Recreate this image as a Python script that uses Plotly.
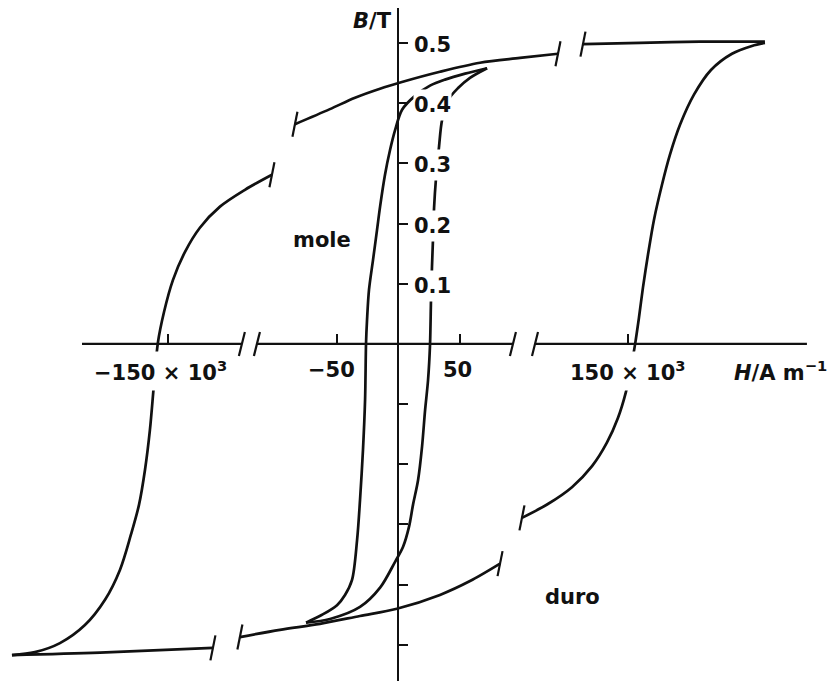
import plotly.graph_objects as go

# ---------------------------------------------------------------
# Soft magnetic material ("mole"): H in A/m, B in T
# ---------------------------------------------------------------
MOLE_DOWN_H = [72.4, 54.5, 38.2, 26.0, 13.8, 3.3, -2.4, -6.5, -10.6, -14.6, -17.1,
               -20.3, -23.6, -25.2, -26.0, -26.8, -28.5, -30.9, -33.3, -37.4, -43.1,
               -49.6, -61.8, -74.8]
MOLE_DOWN_B = [0.458, 0.449, 0.439, 0.429, 0.412, 0.389, 0.355, 0.322, 0.281, 0.228,
               0.189, 0.140, 0.090, 0.040, 0.002, -0.093, -0.176, -0.259, -0.326,
               -0.392, -0.417, -0.434, -0.450, -0.463]

MOLE_UP_H = [-74.8, -55.3, -30.9, -14.6, -2.4, 4.1, 8.9, 12.2, 16.3, 19.5, 22.0, 24.4,
             26.0, 26.8, 27.6, 28.5, 29.3, 30.9, 33.3, 35.8, 40.7, 48.8, 58.5, 72.4]
MOLE_UP_B = [-0.463, -0.457, -0.437, -0.405, -0.362, -0.337, -0.304, -0.267, -0.226,
             -0.171, -0.110, -0.060, -0.002, 0.073, 0.128, 0.178, 0.226, 0.276, 0.327,
             0.372, 0.405, 0.425, 0.442, 0.458]

# ---------------------------------------------------------------
# Hard magnetic material ("duro"): H in 10^3 A/m, B in T.
# Each branch is drawn in three pieces, interrupted at the axis breaks.
# ---------------------------------------------------------------
DURO_DOWN_1_H = [239.4, 197.0, 157.9, 120.7]
DURO_DOWN_1_B = [0.502, 0.502, 0.500, 0.498]
DURO_DOWN_2_H = [104.4, 79.6, 53.5, 27.4, 2.6, -11.7, -28.0, -44.4, -67.2]
DURO_DOWN_2_B = [0.482, 0.475, 0.467, 0.452, 0.435, 0.424, 0.409, 0.390, 0.365]
DURO_DOWN_3_H = [-82.2, -99.8, -116.1, -129.2, -138.9, -146.8, -152.6, -156.6, -159.2,
                 -161.8, -165.0, -168.9, -174.2, -181.3, -191.1, -204.2, -220.5,
                 -236.8, -251.8]
DURO_DOWN_3_B = [0.281, 0.256, 0.228, 0.193, 0.153, 0.106, 0.053, 0.002, -0.068,
                 -0.143, -0.209, -0.267, -0.317, -0.375, -0.425, -0.467, -0.497,
                 -0.512, -0.517]

DURO_UP_1_H = [-251.8, -194.4, -120.7]
DURO_UP_1_B = [-0.517, -0.513, -0.505]
DURO_UP_2_H = [-103.1, -77.0, -50.9, -24.8, -0.7, 27.4, 47.0, 66.6]
DURO_UP_2_B = [-0.487, -0.475, -0.465, -0.452, -0.440, -0.417, -0.394, -0.365]
DURO_UP_3_H = [80.9, 97.8, 113.5, 126.6, 136.3, 143.5, 148.7, 152.0, 154.6, 157.2,
               159.8, 163.1, 167.0, 172.2, 177.4, 184.0, 193.1, 204.2, 217.9, 230.9,
               239.4]
DURO_UP_3_B = [-0.289, -0.266, -0.238, -0.203, -0.164, -0.123, -0.080, -0.040, -0.002,
               0.043, 0.093, 0.148, 0.206, 0.264, 0.314, 0.364, 0.414, 0.455, 0.482,
               0.495, 0.500]

# H axis drawn in three pieces (10^3 A/m scale)
H_AXIS_PIECES = [(-206.1, -101.8), (-92.0, 75.0), (89.4, 266.8)]

# Ticks and labels
B_TICKS = [-0.5, -0.4, -0.3, -0.2, -0.1, 0.1, 0.2, 0.3, 0.4, 0.5]
B_LABELED = [0.1, 0.2, 0.3, 0.4, 0.5]
B_LABELS = ["0.1", "0.2", "0.3", "0.4", "0.5"]
H_MOLE_TICKS = [-50, 50]
H_MOLE_LABELS = ["\u221250", "50"]
H_DURO_TICKS = [-150, 150]
H_DURO_LABELS = ["\u2212150 \u00d7 10<sup>3</sup>", "150 \u00d7 10<sup>3</sup>"]

# ---------------------------------------------------------------
# Figure geometry
# ---------------------------------------------------------------
W, HGT, TOP = 831, 681, 8
B_RANGE = [-0.560, 0.558]
H_MOLE_RANGE = [-323.6, 352.0]
H_DURO_RANGE = [-259.6, 282.5]

PX_PER_T = (HGT - TOP) / (B_RANGE[1] - B_RANGE[0])
PX_PER_KA = W / (H_DURO_RANGE[1] - H_DURO_RANGE[0])

FONT = "DejaVu Sans"
FSIZE = 21
INK = "#111111"
CURVE_W = 2.7
AXIS_W = 2.2

fig = go.Figure()


def curve(h, b, axis):
    fig.add_trace(go.Scatter(
        x=h, y=b, mode="lines", xaxis=axis, yaxis="y",
        line=dict(color=INK, width=CURVE_W, shape="spline", smoothing=0.9),
        hoverinfo="skip"))


def segment_marks(points, half_px=12.5, lean_px=2.5):
    """Short near-vertical strokes marking where a broken line stops."""
    xs, ys = [], []
    dh = lean_px / PX_PER_KA
    db = half_px / PX_PER_T
    for h, b in points:
        xs += [h - dh, h + dh, None]
        ys += [b - db, b + db, None]
    fig.add_trace(go.Scatter(x=xs, y=ys, mode="lines", xaxis="x2", yaxis="y",
                             line=dict(color=INK, width=AXIS_W), hoverinfo="skip"))


# soft loop
curve(MOLE_DOWN_H, MOLE_DOWN_B, "x")
curve(MOLE_UP_H, MOLE_UP_B, "x")

# hard loop pieces
duro_pieces = [
    (DURO_DOWN_1_H, DURO_DOWN_1_B), (DURO_DOWN_2_H, DURO_DOWN_2_B),
    (DURO_DOWN_3_H, DURO_DOWN_3_B),
    (DURO_UP_1_H, DURO_UP_1_B), (DURO_UP_2_H, DURO_UP_2_B),
    (DURO_UP_3_H, DURO_UP_3_B),
]
for h, b in duro_pieces:
    curve(h, b, "x2")

# break strokes at the inner ends of each broken branch
ends = []
for branch in (duro_pieces[:3], duro_pieces[3:]):
    for i, (h, b) in enumerate(branch):
        if i > 0:
            ends.append((h[0], b[0]))
        if i < len(branch) - 1:
            ends.append((h[-1], b[-1]))
segment_marks(ends)

# H axis line with its breaks
ax_x, ax_y = [], []
for a, c in H_AXIS_PIECES:
    ax_x += [a, c, None]
    ax_y += [0, 0, None]
fig.add_trace(go.Scatter(x=ax_x, y=ax_y, mode="lines", xaxis="x2", yaxis="y",
                         line=dict(color=INK, width=AXIS_W), hoverinfo="skip"))
axis_breaks = [(H_AXIS_PIECES[i][1], 0) for i in range(len(H_AXIS_PIECES) - 1)]
axis_breaks += [(H_AXIS_PIECES[i + 1][0], 0) for i in range(len(H_AXIS_PIECES) - 1)]
segment_marks(axis_breaks, half_px=12, lean_px=3)

x_pos = (0 - B_RANGE[0]) / (B_RANGE[1] - B_RANGE[0])
y_pos = (0 - H_MOLE_RANGE[0]) / (H_MOLE_RANGE[1] - H_MOLE_RANGE[0])

common_x = dict(showgrid=False, zeroline=False, showline=False, showticklabels=False,
                ticks="inside", ticklen=10, tickwidth=AXIS_W, tickcolor=INK,
                anchor="free", position=x_pos, side="bottom", fixedrange=True)

fig.update_layout(
    width=W, height=HGT,
    margin=dict(l=0, r=0, t=TOP, b=0, autoexpand=False),
    paper_bgcolor="white", plot_bgcolor="white",
    showlegend=False,
    xaxis=dict(range=H_MOLE_RANGE, tickvals=H_MOLE_TICKS, **common_x),
    xaxis2=dict(range=H_DURO_RANGE, tickvals=H_DURO_TICKS, overlaying="x", **common_x),
    yaxis=dict(range=B_RANGE, showgrid=False, zeroline=False, showline=True,
               linecolor=INK, linewidth=AXIS_W, ticks="outside", ticklen=9,
               tickwidth=AXIS_W, tickcolor=INK, tickvals=B_TICKS,
               showticklabels=False, anchor="free", position=y_pos, side="right",
               fixedrange=True),
)

font = dict(family=FONT, size=FSIZE, color=INK, weight="bold")


def label(text, x, y, xref, yref, **kw):
    fig.add_annotation(text=text, x=x, y=y, xref=xref, yref=yref, showarrow=False,
                       font=font, borderpad=0, **kw)


# B tick labels (their white boxes interrupt the curves behind them)
for v, t in zip(B_LABELED, B_LABELS):
    label(t, 0, v, "x", "y", xanchor="left", yanchor="middle", xshift=15, yshift=-2,
          bgcolor="white", height=30)

# H tick labels
for v, t in zip(H_MOLE_TICKS, H_MOLE_LABELS):
    label(t, v, 0, "x", "y", xanchor="center", yanchor="middle",
          xshift=-5 if v < 0 else -2, yshift=-26, bgcolor="white")
for v, t in zip(H_DURO_TICKS, H_DURO_LABELS):
    label(t, v, 0, "x2", "y", xanchor="center", yanchor="middle",
          xshift=-8 if v < 0 else 0, yshift=-27, bgcolor="white", height=38)

# axis titles
label("<i>B</i>/T", 0, 1, "x", "paper", xanchor="right", yanchor="top", xshift=-5)
label("<i>H</i>/A m<sup>\u22121</sup>", 1, 0, "paper", "y", xanchor="right",
      yanchor="middle", xshift=-3, yshift=-27)

# curve names
label("mole", -62, 0.173, "x", "y", xanchor="center", yanchor="middle")
label("duro", 114, -0.420, "x2", "y", xanchor="center", yanchor="middle")

fig.write_html("out.html")
